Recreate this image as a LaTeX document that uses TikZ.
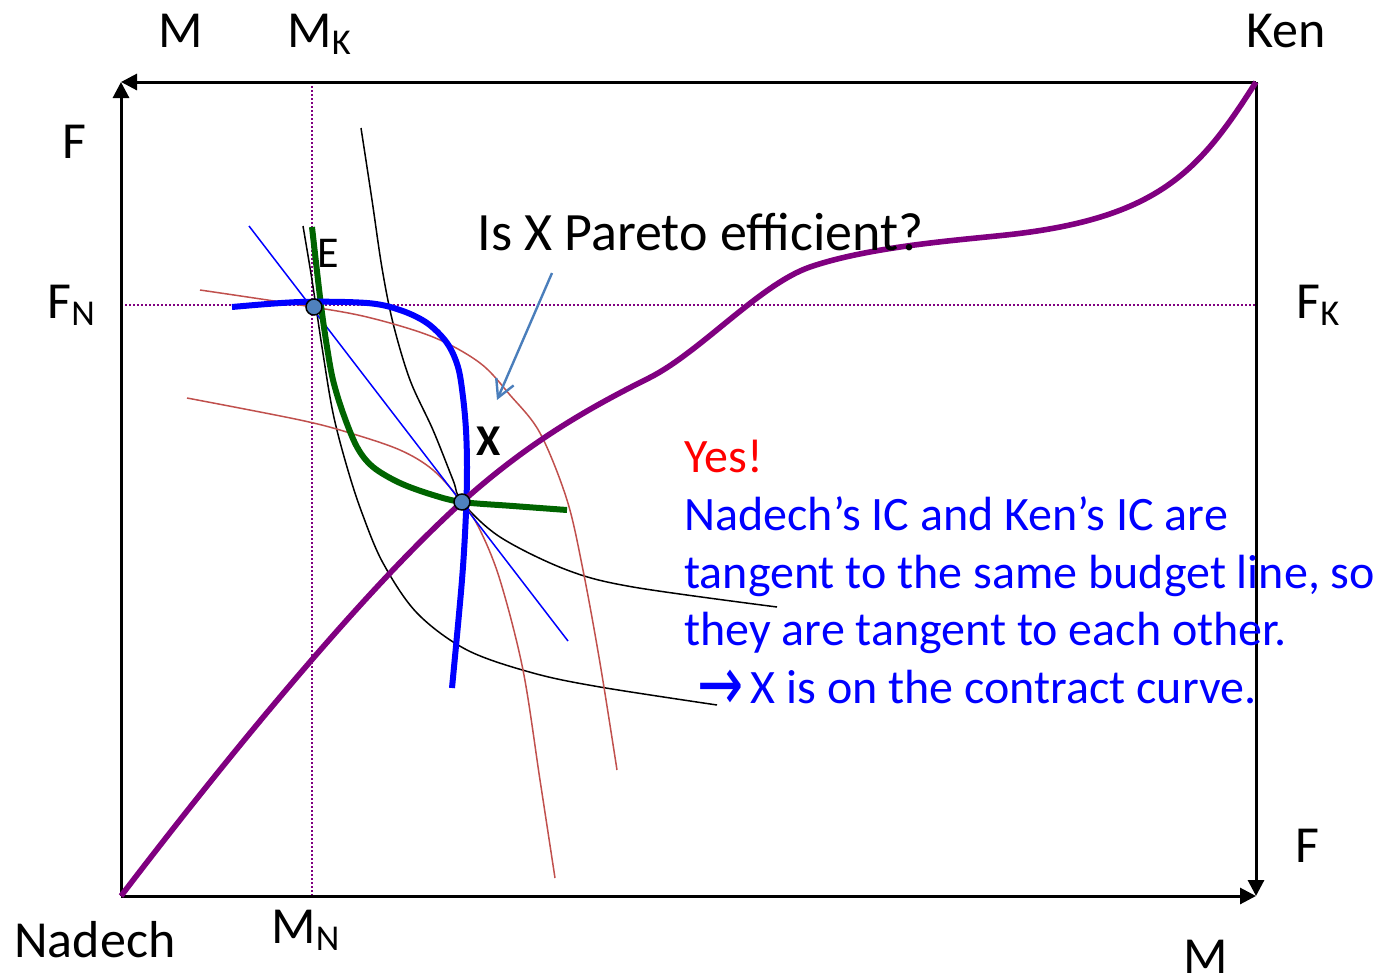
\documentclass[tikz,border=0pt]{standalone}
\usepackage{fontspec}
\usepackage{graphicx}
\setmainfont{Carlito}
\newfontfamily\arrowfont{DejaVu Sans}
\usetikzlibrary{arrows.meta}
\definecolor{ccpurple}{HTML}{800080}
\definecolor{icgreen}{HTML}{006400}
\definecolor{icred}{HTML}{C0504D}
\definecolor{dotblue}{HTML}{4F81BD}
\definecolor{arrblue}{HTML}{4A7EBB}
\begin{document}
\begin{tikzpicture}[x=0.5pt,y=-0.5pt,
  axis/.style={line width=1.5pt,-{Triangle[length=8pt,width=8pt]}},
  guide/.style={ccpurple,line width=1pt,dash pattern=on 1pt off 1pt},
  thinic/.style={line width=0.75pt},
  biglbl/.style={font=\fontsize{26}{31}\selectfont,inner sep=0pt,anchor=base west},
  qlbl/.style={font=\fontsize{27}{32}\selectfont,inner sep=0pt,anchor=base west},
  midlbl/.style={font=\fontsize{22}{26}\selectfont,inner sep=0pt,anchor=base west},
  txtlbl/.style={font=\fontsize{24}{29}\selectfont,inner sep=0pt,anchor=base west},
  ptdot/.style={fill=dotblue,draw=black,line width=0.75pt}]
\useasboundingbox (0,0) rectangle (1383,975);

% corners of the box
\coordinate (NO) at (121,896);
\coordinate (KO) at (1256,82);
\coordinate (TL) at (121,82);
\coordinate (BR) at (1256,896);
\coordinate (E) at (314,307);
\coordinate (X) at (462,502);

% guides
\draw[guide] (312,82) -- (312,896);
\draw[guide] (121,305) -- (1256,305);

% axes
\draw[axis] (NO) -- (TL);
\draw[axis] (KO) -- (TL);
\draw[axis] (NO) -- (BR);
\draw[axis] (KO) -- (BR);

% black ICs
\draw[thinic,black] plot[smooth,tension=0.55] coordinates {(303,226) (312,280) (322,347) (333,413) (347,467) (362,513) (383,563) (417,613) (467,650) (533,673) (600,687) (717,705)};
\draw[thinic,black] plot[smooth,tension=0.55] coordinates {(361,128) (372,200) (382,268) (393,323) (410,380) (433,430) (453,480) (462,502) (500,537) (567,570) (633,587) (777,607)};

% red ICs
\draw[thinic,icred] plot[smooth,tension=0.55] coordinates {(200,290) (300,305) (367,317) (433,337) (480,363) (510,395) (540,433) (567,500) (583,570) (600,663) (617,770)};
\draw[thinic,icred] plot[smooth,tension=0.55] coordinates {(187,398) (300,420) (350,433) (400,450) (433,470) (462,502) (480,530) (500,580) (523,670) (540,780) (555,878)};

% budget line
\coordinate (B1) at (249,226);
\coordinate (B2) at (568,641);
\draw[thinic,blue] (B1) -- (B2);

% green IC
\draw[icgreen,line width=3pt] plot[smooth,tension=0.55] coordinates {(312,227) (318,280) (322,313) (327,347) (333,380) (343,413) (357,447) (373,467) (400,483) (433,495) (462,502) (513,506) (567,510)};

% blue thick IC
\draw[blue,line width=3pt] plot[smooth,tension=0.55] coordinates {(232,307) (300,302) (367,303) (400,310) (427,323) (447,343) (458,367) (463,397) (466,430) (467,467) (466,513) (462,580) (452,688)};

% contract curve
\draw[ccpurple,line width=2.8pt] (NO) .. controls (240,740) and (370,585) .. (X)
  .. controls (530,441) and (590,407.5) .. (649,378)
  .. controls (700,352.5) and (760,284.2) .. (810,267)
  .. controls (870,246.4) and (960,240) .. (1006,235)
  .. controls (1160,218.4) and (1200,170) .. (KO);

% points
\draw[ptdot] (E) circle[radius=4pt];
\draw[ptdot] (X) circle[radius=4pt];

% question arrow
\coordinate (QA) at (552,273);
\coordinate (QB) at (497,400);
\draw[arrblue,line width=1.2pt,-{Straight Barb[length=8.75pt,width=9.5pt]}] (QA) -- (QB);

% labels
\node[biglbl] (lM) at (158,47) {M};
\node[biglbl] (lMK) at (287,47) {M\textsubscript{K}};
\node[biglbl] (lKen) at (1246,47) {Ken};
\node[biglbl] (lF) at (62,158) {F};
\node[biglbl] (lFN) at (47,318) {F\textsubscript{N}};
\node[biglbl] (lFK) at (1296,318) {F\textsubscript{K}};
\node[biglbl] (lF2) at (1295,862) {F};
\node[biglbl] (lNad) at (14,957) {Nadech};
\node[biglbl] (lMN) at (271,943) {M\textsubscript{N}};
\node[biglbl] (lM2) at (1183,973) {M};
\node[midlbl] (lE) at (317,267) {E};
\node[midlbl,font=\fontsize{22}{26}\selectfont\bfseries] (lX) at (476,455) {X};

\node[qlbl] (q) at (477,250) {Is X Pareto efficient?};
\node[txtlbl,red] (yes) at (684,472) {Yes!};
\node[txtlbl,blue] (t1) at (684,530) {Nadech’s IC and Ken’s IC are};
\node[txtlbl,blue] (t2) at (684,588) {tangent to the same budget line, so};
\node[txtlbl,blue] (t3) at (684,645) {they are tangent to each other.};
\node[txtlbl,blue] (t4) at (697,703) {\raisebox{-0.15em}{\arrowfont\scalebox{1.15}[1.6]{→}}\hspace{0.15em}X is on the contract curve.};
\end{tikzpicture}
\end{document}
